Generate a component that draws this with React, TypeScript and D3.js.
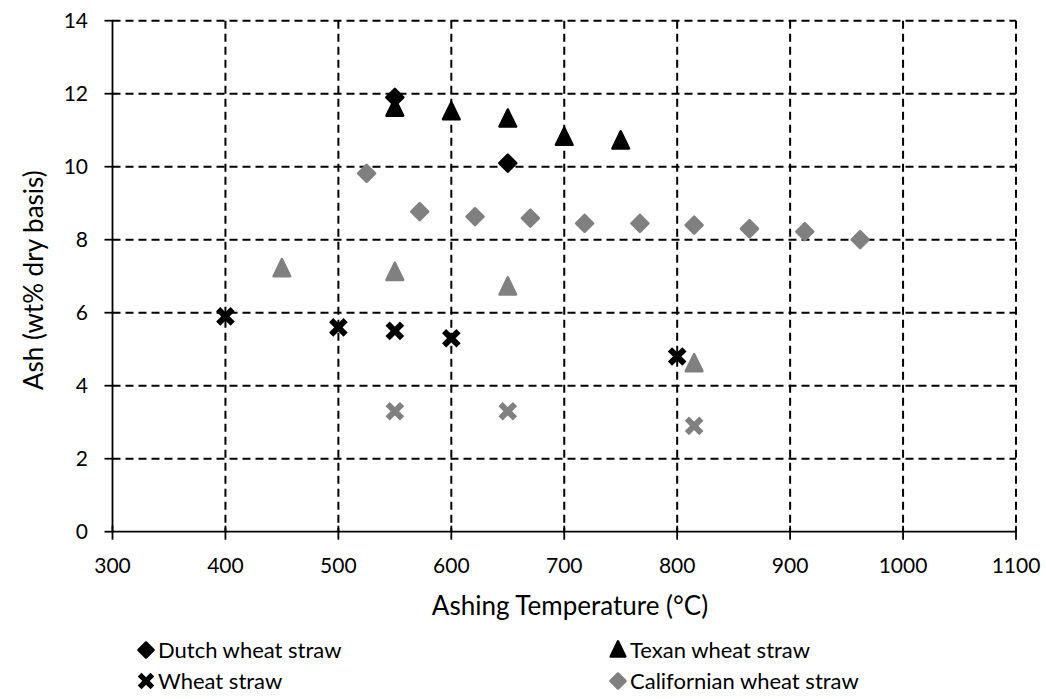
import React from "react";
import * as d3 from "d3";

// ashing temperature (°C) and ash content (wt% dry basis)
const dutchT = [550, 650];
const dutchAsh = [11.9, 10.1];

const texanT = [550, 600, 650, 700, 750];
const texanAsh = [11.6, 11.5, 11.3, 10.8, 10.7];

const wheatT = [400, 500, 550, 600, 800];
const wheatAsh = [5.9, 5.6, 5.5, 5.3, 4.8];

const califT = [525, 572, 621, 670, 718, 767, 815, 864, 913, 962];
const califAsh = [9.82, 8.77, 8.63, 8.59, 8.45, 8.45, 8.4, 8.3, 8.22, 8.0];

// unlabelled grey series
const greyTriT = [450, 550, 650, 815];
const greyTriAsh = [7.2, 7.1, 6.7, 4.6];
const greyXT = [550, 650, 815];
const greyXAsh = [3.3, 3.3, 2.9];

const xTicks = [300, 400, 500, 600, 700, 800, 900, 1000, 1100];
const yTicks = [0, 2, 4, 6, 8, 10, 12, 14];

const W = 1046;
const H = 699;
const FONT = "Lato, 'Open Sans', sans-serif";
const GREY = "#808080";

const zip = (xs: number[], ys: number[]) => xs.map((x, i) => ({ x, y: ys[i] }));

const diamond = (s: number) => `M0,${-s}L${s},0L0,${s}L${-s},0Z`;
const triangle = (s: number) => `M0,${-s}L${s * 0.85},${s * 0.75}L${-s * 0.85},${s * 0.75}Z`;

const Marker = ({ kind, color, size }: { kind: string; color: string; size: number }) => {
  if (kind === "x") {
    const s = size * 0.85;
    return (
      <g stroke={color} strokeWidth={size * 0.7} strokeLinecap="butt">
        <line x1={-s} y1={-s} x2={s} y2={s} />
        <line x1={-s} y1={s} x2={s} y2={-s} />
      </g>
    );
  }
  const d = kind === "diamond" ? diamond(size) : triangle(size * 1.15);
  return <path d={d} fill={color} stroke={color} strokeWidth={2.5} strokeLinejoin="round" />;
};

export default function App() {
  const x = d3.scaleLinear().domain([300, 1100]).range([112.5, 1016]);
  const y = d3.scaleLinear().domain([0, 14]).range([531.7, 20.7]);

  const series = [
    { pts: zip(greyXT, greyXAsh), kind: "x", color: GREY },
    { pts: zip(greyTriT, greyTriAsh), kind: "triangle", color: GREY },
    { pts: zip(califT, califAsh), kind: "diamond", color: GREY },
    { pts: zip(wheatT, wheatAsh), kind: "x", color: "#000" },
    { pts: zip(texanT, texanAsh), kind: "triangle", color: "#000" },
    { pts: zip(dutchT, dutchAsh), kind: "diamond", color: "#000" },
  ];

  const legend = [
    { label: "Dutch wheat straw", kind: "diamond", color: "#000", lx: 146, ly: 650 },
    { label: "Texan wheat straw", kind: "triangle", color: "#000", lx: 618, ly: 650 },
    { label: "Wheat straw", kind: "x", color: "#000", lx: 146, ly: 681 },
    { label: "Californian wheat straw", kind: "diamond", color: GREY, lx: 618, ly: 681 },
  ];

  const [x0, x1] = x.range();
  const [y0, y1] = y.range();

  return (
    <svg width={W} height={H} style={{ position: "absolute", left: 0, top: 0, background: "#fff" }} fontFamily={FONT}>
      {/* grid */}
      <g stroke="#000" strokeWidth={2} strokeDasharray="8 5" fill="none">
        {yTicks.filter((t) => t > 0).map((t) => (
          <line key={"h" + t} x1={x0} x2={x1} y1={y(t)} y2={y(t)} />
        ))}
        {xTicks.filter((t) => t > 300).map((t) => (
          <line key={"v" + t} x1={x(t)} x2={x(t)} y1={y1} y2={y0} />
        ))}
      </g>
      {/* axes */}
      <g stroke="#000" strokeWidth={1.8}>
        <line x1={x0} x2={x0} y1={y0} y2={y1} />
        <line x1={x0} x2={x1} y1={y0} y2={y0} />
        {yTicks.map((t) => (
          <line key={"yt" + t} x1={x0 - 8} x2={x0 + 1} y1={y(t)} y2={y(t)} />
        ))}
        {xTicks.map((t) => (
          <line key={"xt" + t} x1={x(t)} x2={x(t)} y1={y0 - 6} y2={y0 + 8} />
        ))}
      </g>
      <g fontSize={21} fill="#000">
        {yTicks.map((t) => (
          <text key={"yl" + t} x={88} y={y(t)} dy="0.35em" textAnchor="end">
            {t}
          </text>
        ))}
        {xTicks.map((t) => (
          <text key={"xl" + t} x={x(t)} y={566} dy="0.35em" textAnchor="middle">
            {t}
          </text>
        ))}
      </g>
      <text x={570} y={615} textAnchor="middle" fontSize={26}>
        Ashing Temperature (°C)
      </text>
      <text transform={`translate(43,${(y0 + y1) / 2 + 4}) rotate(-90)`} textAnchor="middle" fontSize={26}>
        Ash (wt% dry basis)
      </text>
      {/* points */}
      {series.map((s, i) => (
        <g key={"s" + i}>
          {s.pts.map((p, j) => (
            <g key={j} transform={`translate(${x(p.x)},${y(p.y)})`}>
              <Marker kind={s.kind} color={s.color} size={8.5} />
            </g>
          ))}
        </g>
      ))}
      {/* legend */}
      {legend.map((l) => (
        <g key={l.label} transform={`translate(${l.lx},${l.ly})`}>
          <Marker kind={l.kind} color={l.color} size={7.5} />
          <text x={12} dy="0.35em" fontSize={22}>
            {l.label}
          </text>
        </g>
      ))}
    </svg>
  );
}
